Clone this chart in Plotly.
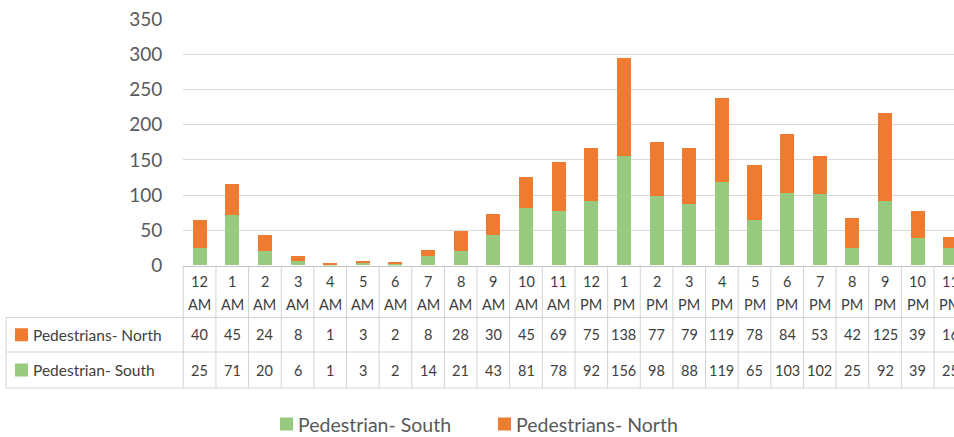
import plotly.graph_objects as go

# Hourly pedestrian counts by direction
hours = ["12", "1", "2", "3", "4", "5", "6", "7", "8", "9", "10", "11",
         "12", "1", "2", "3", "4", "5", "6", "7", "8", "9", "10", "11"]
periods = ["AM"] * 12 + ["PM"] * 12
categories = [f"{h} {p}" for h, p in zip(hours, periods)]

north = [40, 45, 24, 8, 1, 3, 2, 8, 28, 30, 45, 69,
         75, 138, 77, 79, 119, 78, 84, 53, 42, 125, 39, 16]
south = [25, 71, 20, 6, 1, 3, 2, 14, 21, 43, 81, 78,
         92, 156, 98, 88, 119, 65, 103, 102, 25, 92, 39, 25]

north_name = "Pedestrians- North"
south_name = "Pedestrian- South"
y_ticks = [0, 50, 100, 150, 200, 250, 300, 350]

# ---- styling / geometry ----
W, H = 954, 437
GREEN = "#97C97E"
ORANGE = "#EE7B2F"
TEXT = "#404040"
AXIS_TEXT = "#595959"
GRID = "#D9D9D9"
BORDER = "#D3D3D3"
FONT = "Lato"


def px(x):
    return x / W


def py(y):
    return 1 - y / H


plot_left = 183.3
col_w = 32.64
y_zero_px, y_top_px = 265.5, 19.0
unit = (y_zero_px - y_top_px) / 350.0
y_max = 351
dom_top_px = y_zero_px - y_max * unit

header_top, row1_top, row2_top, table_bottom = 265.5, 317.5, 352.0, 388.0
table_left = 6

fig = go.Figure()
fig.add_trace(go.Bar(x=categories, y=south, name=south_name,
                     marker=dict(color=GREEN, line=dict(width=0))))
fig.add_trace(go.Bar(x=categories, y=north, name=north_name,
                     marker=dict(color=ORANGE, line=dict(width=0))))

shapes = []
# horizontal table rules
for yy in (row1_top, row2_top, table_bottom):
    shapes.append(dict(type="line", xref="paper", yref="paper",
                       x0=px(table_left), x1=1, y0=py(yy), y1=py(yy),
                       line=dict(color=BORDER, width=1)))
# left edge of the row-label column
shapes.append(dict(type="line", xref="paper", yref="paper",
                   x0=px(table_left), x1=px(table_left),
                   y0=py(row1_top), y1=py(table_bottom),
                   line=dict(color=BORDER, width=1)))
# left edge of the data columns
shapes.append(dict(type="line", xref="paper", yref="paper",
                   x0=px(plot_left), x1=px(plot_left),
                   y0=py(header_top), y1=py(table_bottom),
                   line=dict(color=BORDER, width=1)))
# column separators
for i in range(len(categories) - 1):
    shapes.append(dict(type="line", xref="x", yref="paper",
                       x0=i + 0.5, x1=i + 0.5,
                       y0=py(header_top), y1=py(table_bottom),
                       line=dict(color=BORDER, width=1)))

annotations = []


def add_text(x, y, text, size, color=TEXT, xref="x", xanchor="center"):
    annotations.append(dict(x=x, y=y, xref=xref, yref="paper", text=text,
                            showarrow=False, xanchor=xanchor, yanchor="middle",
                            font=dict(family=FONT, size=size, color=color)))


# header row and value rows
for cat, h, p, n, s in zip(categories, hours, periods, north, south):
    add_text(cat, py(281), h, 14.5)
    add_text(cat, py(304), p, 14.5)
    add_text(cat, py((row1_top + row2_top) / 2), str(n), 14.5)
    add_text(cat, py((row2_top + table_bottom) / 2), str(s), 14.5)

# row labels with colour keys
for name, color, yc in ((north_name, ORANGE, (row1_top + row2_top) / 2),
                        (south_name, GREEN, (row2_top + table_bottom) / 2)):
    shapes.append(dict(type="rect", xref="paper", yref="paper",
                       x0=px(15), x1=px(28), y0=py(yc - 6.5), y1=py(yc + 6.5),
                       fillcolor=color, line=dict(width=0)))
    add_text(px(31), py(yc), name, 15.5, xref="paper", xanchor="left")

# legend below the table
legend_y = 424
for name, color, sx in ((south_name, GREEN, 280), (north_name, ORANGE, 498)):
    shapes.append(dict(type="rect", xref="paper", yref="paper",
                       x0=px(sx), x1=px(sx + 13),
                       y0=py(legend_y + 6.5), y1=py(legend_y - 6.5),
                       fillcolor=color, line=dict(width=0)))
    add_text(px(sx + 16), py(legend_y), name, 19.5, color=AXIS_TEXT,
             xref="paper", xanchor="left")

fig.update_layout(
    width=W, height=H, autosize=False,
    margin=dict(l=0, r=0, t=0, b=0, pad=0, autoexpand=False),
    paper_bgcolor="white", plot_bgcolor="white",
    barmode="stack", bargap=0.57,
    showlegend=False,
    shapes=shapes, annotations=annotations,
    font=dict(family=FONT, color=AXIS_TEXT),
    xaxis=dict(
        domain=[px(plot_left), 1],
        type="category", categoryorder="array", categoryarray=categories,
        range=[-0.5, -0.5 + (W - plot_left) / col_w],
        showticklabels=False, ticks="", showgrid=False, zeroline=False,
        showline=True, linecolor="#C4C4C4", linewidth=1,
        automargin=False, fixedrange=True,
    ),
    yaxis=dict(
        domain=[py(y_zero_px), py(dom_top_px)],
        range=[0, y_max],
        tickvals=y_ticks, ticks="",
        showgrid=True, gridcolor=GRID, gridwidth=1,
        zeroline=False, showline=False,
        ticklabelstandoff=20,
        tickfont=dict(family=FONT, size=19, color=AXIS_TEXT),
        automargin=False, fixedrange=True,
    ),
)

fig.write_html("out.html")
